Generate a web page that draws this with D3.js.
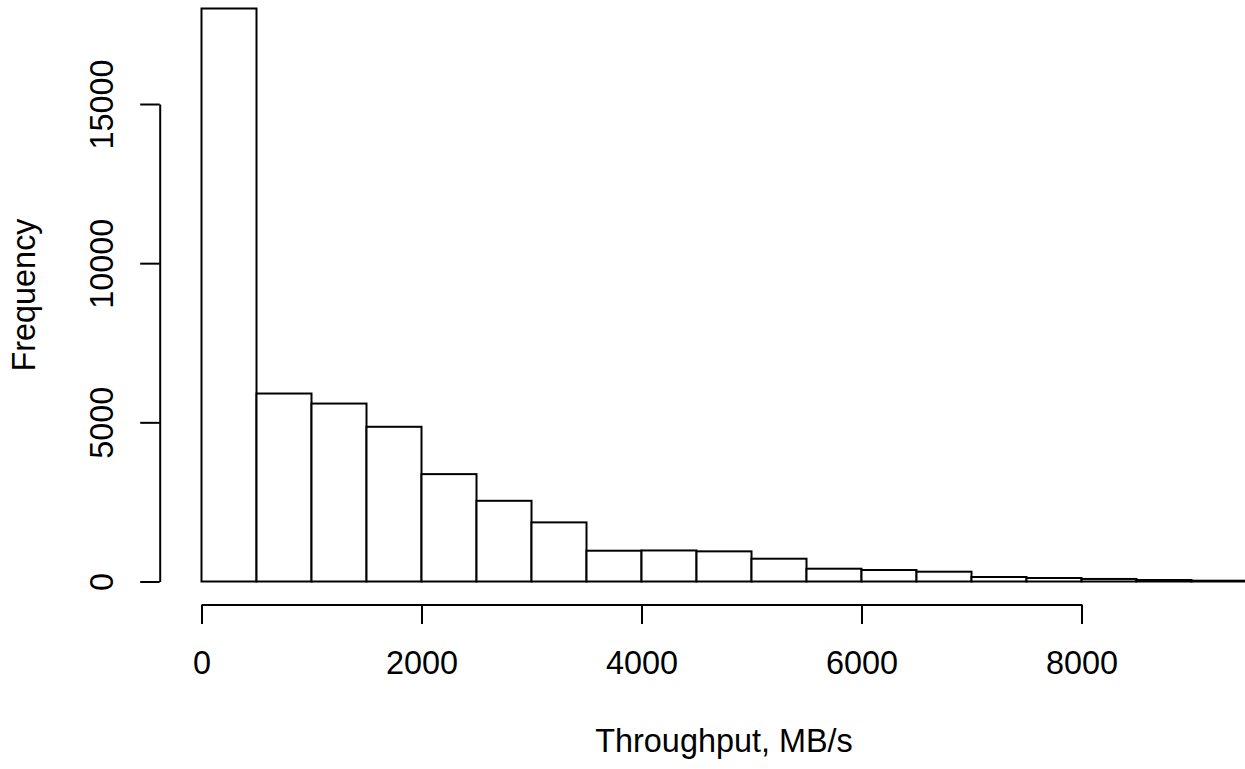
<!DOCTYPE html>
<html>
<head>
<meta charset="utf-8">
<script src="https://cdn.jsdelivr.net/npm/d3@7"></script>
<style>
  html, body { margin: 0; padding: 0; background: #fff; overflow: hidden; }
  svg { display: block; }
  text { font-family: "Liberation Sans", Arial, Helvetica, sans-serif; fill: #000; }
</style>
</head>
<body>
<svg id="chart" width="1245" height="769"></svg>
<script>
const binStarts = [0, 500, 1000, 1500, 2000, 2500, 3000, 3500, 4000, 4500, 5000, 5500, 6000, 6500, 7000, 7500, 8000, 8500, 9000];
const binWidth = 500;
const counts = [18000, 5905, 5590, 4860, 3373, 2535, 1857, 967, 975, 947, 716, 402, 361, 308, 141, 110, 80, 47, 25];
const xTicks = [0, 2000, 4000, 6000, 8000];
const yTicks = [0, 5000, 10000, 15000];
const xTitle = "Throughput, MB/s";
const yTitle = "Frequency";

const FS = 32.4;
const svg = d3.select("#chart");
const x = d3.scaleLinear().domain([0, 8000]).range([201.5, 1081.5]);
const y = d3.scaleLinear().domain([0, 15000]).range([581.5, 104]);

// bars
svg.append("g").selectAll("rect")
  .data(binStarts.map((s, i) => ({ s, c: counts[i] })))
  .join("rect")
  .attr("x", d => x(d.s))
  .attr("width", d => x(d.s + binWidth) - x(d.s))
  .attr("y", d => y(d.c))
  .attr("height", d => y(0) - y(d.c))
  .attr("fill", "#fff")
  .attr("stroke", "#000")
  .attr("stroke-width", 2);

// x axis
const gx = svg.append("g").attr("transform", "translate(0,604.4)")
  .call(d3.axisBottom(x).tickValues(xTicks).tickSize(19.5).tickSizeOuter(0).tickFormat(d3.format("d")));
gx.select(".domain").attr("stroke-width", 2);
gx.selectAll(".tick line").attr("stroke-width", 2);
gx.selectAll("text")
  .attr("font-size", FS).attr("font-family", null)
  .attr("y", 70).attr("dy", null);

// y axis
const gy = svg.append("g").attr("transform", "translate(159.7,0)")
  .call(d3.axisLeft(y).tickValues(yTicks).tickSize(19.5).tickSizeOuter(0).tickFormat(d3.format("d")));
gy.select(".domain").attr("stroke-width", 2);
gy.selectAll(".tick line").attr("stroke-width", 2);
gy.selectAll("text")
  .attr("font-size", FS).attr("font-family", null)
  .attr("x", null).attr("dy", null)
  .attr("text-anchor", "middle")
  .attr("transform", "translate(-46.7,0) rotate(-90)");

// titles
svg.append("text").attr("x", 724).attr("y", 752.2)
  .attr("text-anchor", "middle").attr("font-size", FS).text(xTitle);
svg.append("text").attr("transform", "translate(35.2,295) rotate(-90)")
  .attr("text-anchor", "middle").attr("font-size", FS).text(yTitle);
</script>
</body>
</html>
